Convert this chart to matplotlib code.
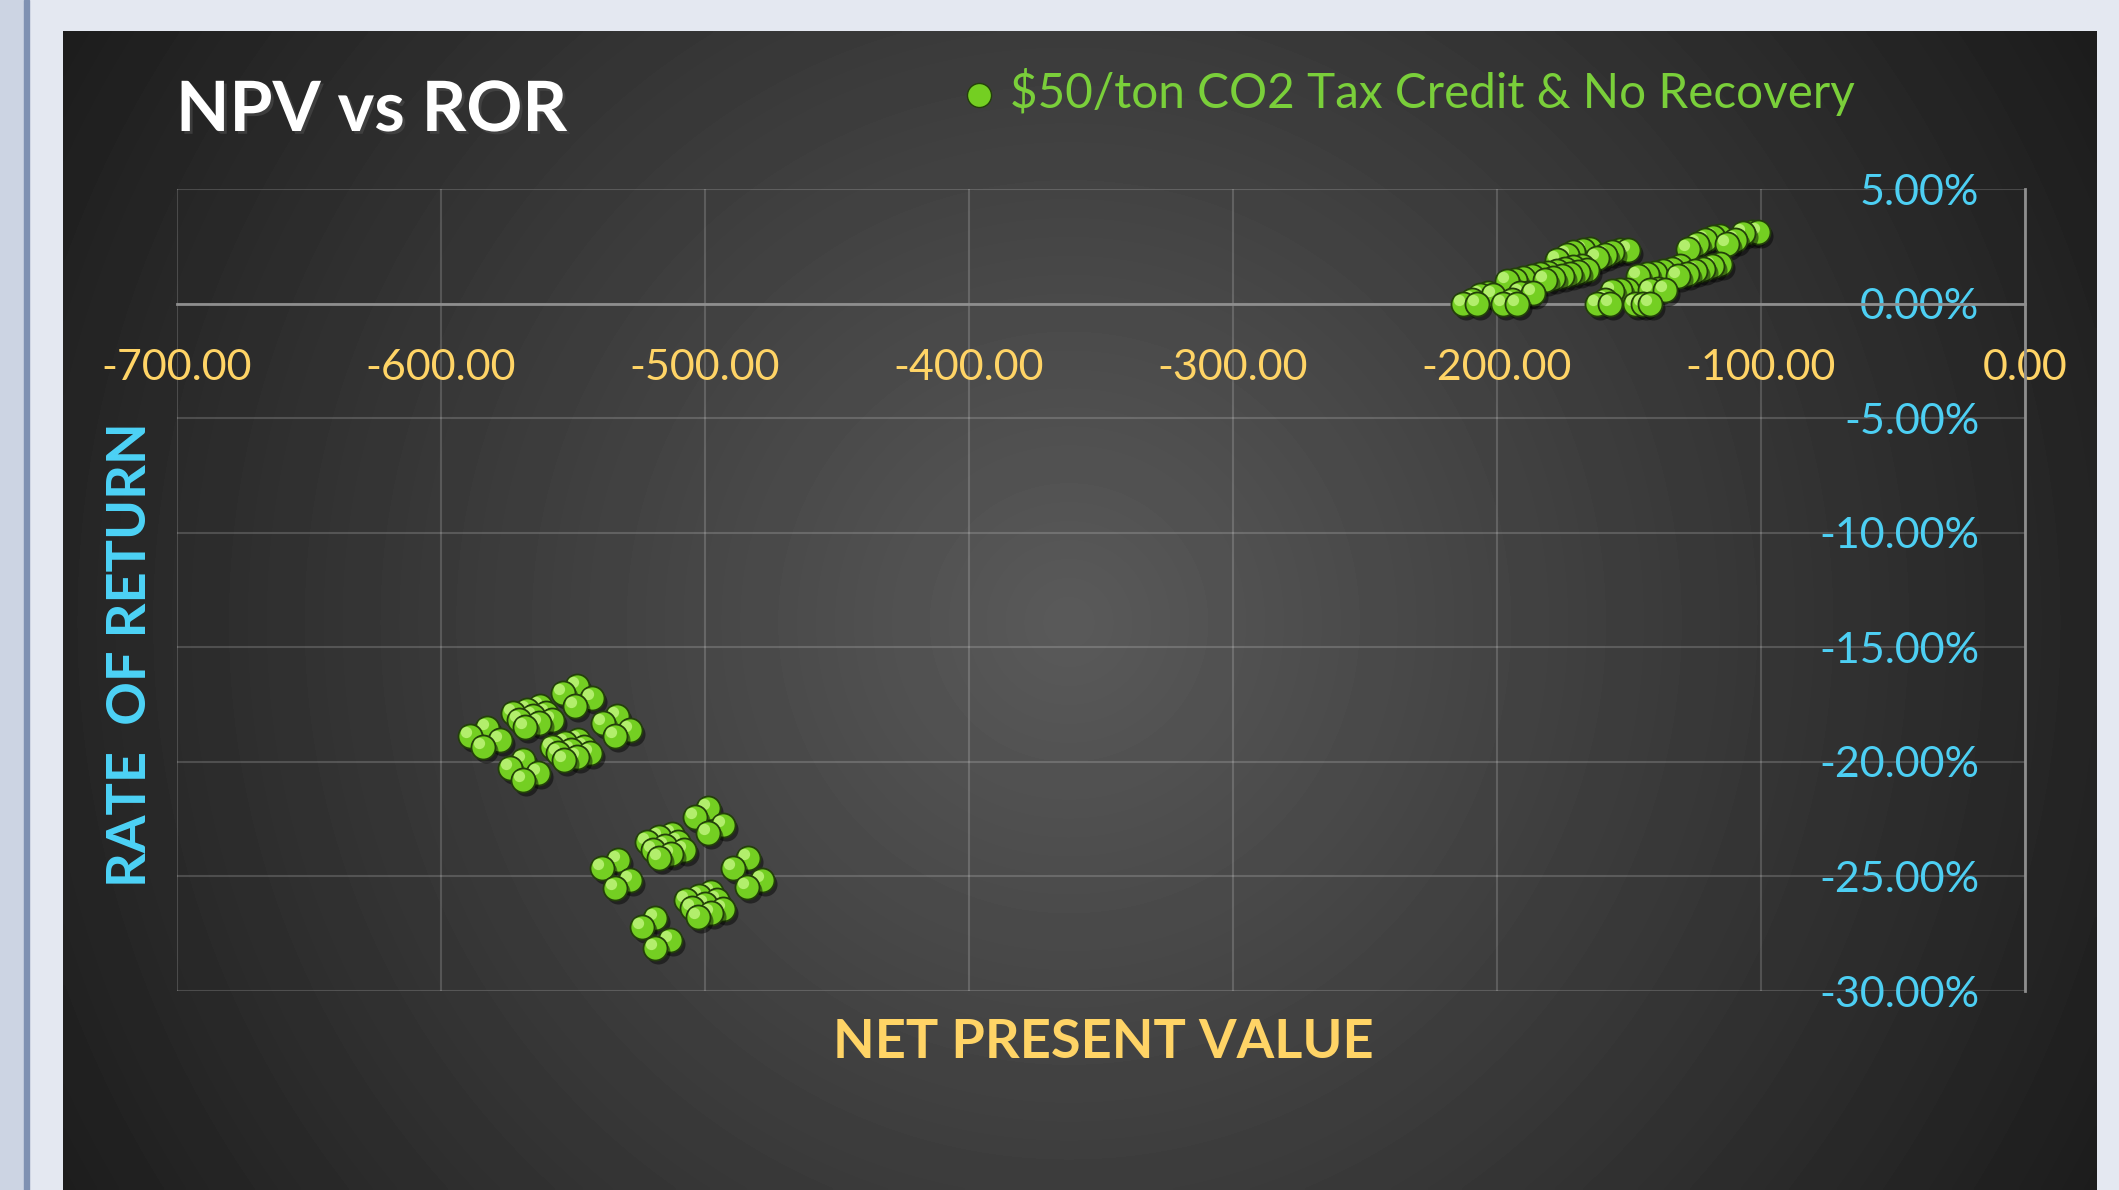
import numpy as np
import matplotlib.pyplot as plt
import matplotlib.patheffects as pe
from matplotlib.transforms import offset_copy

plt.rcParams['font.family'] = ['Lato', 'DejaVu Sans']
plt.rcParams['axes.unicode_minus'] = False

# NPV / ROR(%) - upper group (near 0% ROR)
npv_upper = [-212.8, -209.6, -207.7, -197.6, -194.4, -192.5,
             -206.4, -203.3, -201.4, -191.3, -188.1, -186.2,
             -196.3, -193.2, -190.0, -186.9, -183.7, -180.6, -177.4, -174.3, -171.1, -167.9,
             -181.8, -178.7, -175.5, -172.4, -169.2, -166.0,
             -177.4, -173.6, -171.1, -167.3, -164.8,
             -162.3, -159.1, -156.6, -153.4, -150.3,
             -162.3, -159.1, -157.2, -147.7, -144.6, -142.1,
             -156.6, -153.4, -150.9, -142.1, -138.9, -136.4,
             -146.5, -143.3, -140.2, -137.0, -133.9, -130.7,
             -131.3, -128.2, -125.0, -121.8, -118.7, -115.5,
             -127.5, -124.4, -121.2, -118.1, -115.5,
             -113.0, -109.9, -106.7, -103.5, -101.0]
ror_upper = [0.00, 0.15, 0.00, 0.00, 0.15, 0.00,
             0.39, 0.44, 0.39, 0.44, 0.47, 0.44,
             0.97, 1.05, 1.13, 1.21, 1.28, 1.35, 1.44, 1.51, 1.59, 1.66,
             1.05, 1.12, 1.21, 1.29, 1.38, 1.47,
             1.92, 2.14, 2.24, 2.33, 2.36,
             1.99, 2.14, 2.24, 2.33, 2.33,
             0.00, 0.15, 0.00, 0.00, 0.00, 0.00,
             0.54, 0.58, 0.61, 0.61, 0.64, 0.61,
             1.19, 1.27, 1.35, 1.44, 1.53, 1.62,
             1.22, 1.31, 1.41, 1.51, 1.63, 1.73,
             2.39, 2.58, 2.79, 2.90, 2.94,
             2.58, 2.79, 3.08, 3.13, 3.13]

# lower groups (negative ROR)
npv_lower = [-589.0, -582.7, -584.0, -577.7,
             -572.6, -567.6, -562.5, -570.3, -565.3, -560.2, -568.1, -563.0, -558.0,
             -553.7, -548.6, -549.3, -542.9,
             -538.5, -533.5, -534.1, -528.4,
             -558.1, -553.0, -548.0, -555.8, -550.8, -545.7, -553.5, -548.5, -543.4,
             -573.9, -568.8, -568.8, -563.1,
             -539.1, -532.8, -534.1, -528.4,
             -522.1, -517.3, -512.5, -519.8, -515.0, -510.2, -517.6, -512.8, -508.0,
             -503.8, -498.7, -498.7, -493.1,
             -489.3, -483.6, -484.2, -478.5,
             -507.2, -502.4, -497.6, -504.9, -500.1, -495.3, -502.7, -497.9, -493.1,
             -524.0, -518.9, -518.9, -513.3]
ror_lower = [-18.89, -18.53, -19.36, -19.04,
             -17.88, -17.73, -17.58, -18.17, -18.02, -17.88, -18.46, -18.31, -18.17,
             -17.00, -16.71, -17.58, -17.22,
             -18.31, -18.02, -18.89, -18.60,
             -19.33, -19.19, -19.04, -19.62, -19.48, -19.33, -19.91, -19.77, -19.62,
             -20.28, -19.91, -20.79, -20.49,
             -24.64, -24.28, -25.52, -25.15,
             -23.48, -23.30, -23.13, -23.84, -23.67, -23.49, -24.21, -24.03, -23.86,
             -22.39, -22.02, -23.12, -22.75,
             -24.64, -24.21, -25.44, -25.15,
             -26.03, -25.85, -25.68, -26.39, -26.22, -26.04, -26.75, -26.58, -26.40,
             -27.19, -26.83, -28.14, -27.77]

x_ticks = [-700, -600, -500, -400, -300, -200, -100, 0]
y_ticks = [5, 0, -5, -10, -15, -20, -25, -30]
series_name = "\\$50/ton CO2 Tax Credit & No Recovery"

W, H = 2119, 1190
fig = plt.figure(figsize=(W / 100, H / 100), dpi=100)
fig.patch.set_facecolor('#E4E8F1')

# left window strip
fig.add_artist(plt.Rectangle((0, 0), 24 / W, 1, transform=fig.transFigure, color='#CCD4E3', zorder=0))
fig.add_artist(plt.Rectangle((24 / W, 0), 5 / W, 1, transform=fig.transFigure, color='#7F91B2', zorder=0))

# dark chart panel with radial gradient
bg = fig.add_axes([63 / W, 0, 2034 / W, 1159 / H])
bg.set_axis_off()
gy, gx = np.mgrid[0:1159:4, 0:2034:4]
r = np.hypot(gx - 1005, gy - 590) / 1180
shade = (90 - 62 * np.clip(r, 0, 1)) / 255
bg.imshow(shade, cmap='gray', vmin=0, vmax=1, aspect='auto', interpolation='bilinear',
          extent=[0, 1, 0, 1])

ax = fig.add_axes([177 / W, 1 - 991 / H, (2025 - 177) / W, (991 - 189) / H])
ax.set_facecolor('none')
ax.set_xlim(-700, 0)
ax.set_ylim(-30, 5)

for side in ['top', 'right']:
    ax.spines[side].set_visible(False)
ax.spines['left'].set_position(('data', 0))
ax.spines['bottom'].set_position(('data', 0))
for side in ['left', 'bottom']:
    ax.spines[side].set_color('#8E8E8E')
    ax.spines[side].set_linewidth(2)

ax.set_xticks(x_ticks)
ax.set_xticklabels([f"{v:.2f}" for v in x_ticks])
ax.set_yticks(y_ticks)
ax.set_yticklabels([f"{v:.2f}%" for v in y_ticks])
ax.tick_params(axis='x', length=0, pad=33, labelsize=31, labelcolor='#FFD466')
ax.tick_params(axis='y', length=0, pad=33, labelsize=31, labelcolor='#4DCFF3')
ax.grid(True, color='white', alpha=0.17, lw=1.5)
ax.set_axisbelow(True)

# 3D-looking balls, lower ones drawn on top
npv = np.array(npv_upper + npv_lower)
ror = np.array(ror_upper + ror_lower)
order = np.argsort(-ror, kind='stable')
shadow_tr = offset_copy(ax.transData, fig=fig, x=3, y=-4, units='dots')
hl_tr = offset_copy(ax.transData, fig=fig, x=-4, y=4, units='dots')
ball_size = 300
z = 3
for i in order:
    ax.scatter(npv[i], ror[i], s=ball_size, c='black', alpha=0.45, linewidths=0,
               zorder=z, transform=shadow_tr)
    ax.scatter(npv[i], ror[i], s=ball_size, c='#74CF22', edgecolors='#23400A',
               linewidths=1.3, zorder=z + 0.3)
    ax.scatter(npv[i], ror[i], s=ball_size * 0.22, c='#B2EE6C', linewidths=0,
               zorder=z + 0.6, transform=hl_tr)
    z += 1

handle = ax.scatter([], [], s=ball_size, c='#74CF22', edgecolors='#23400A', linewidths=1.0)
ax.legend([handle], [series_name], loc='center left', bbox_to_anchor=(962 / W, 1 - 92 / H),
          bbox_transform=fig.transFigure, frameon=False, fontsize=34.3, labelcolor='#7ACF3A',
          handletextpad=0.3, handlelength=0.7, borderpad=0, borderaxespad=0, markerscale=1.0)

fig.text(176 / W, 1 - 131 / H, 'NPV vs ROR', fontsize=50, fontweight='bold', color='white',
         va='baseline', path_effects=[pe.withSimplePatchShadow(offset=(2, -2), alpha=0.6)])
fig.text(1103 / W, 1 - 1042 / H, 'NET PRESENT VALUE', ha='center', va='center', fontsize=39,
         fontweight='bold', color='#FFD466')
fig.text(131 / W, 1 - 655 / H, 'RATE  OF RETURN', rotation=90, ha='center', va='center',
         fontsize=39, fontweight='bold', color='#4DD3F7')

fig.savefig('out.png', dpi=100, facecolor=fig.get_facecolor())
